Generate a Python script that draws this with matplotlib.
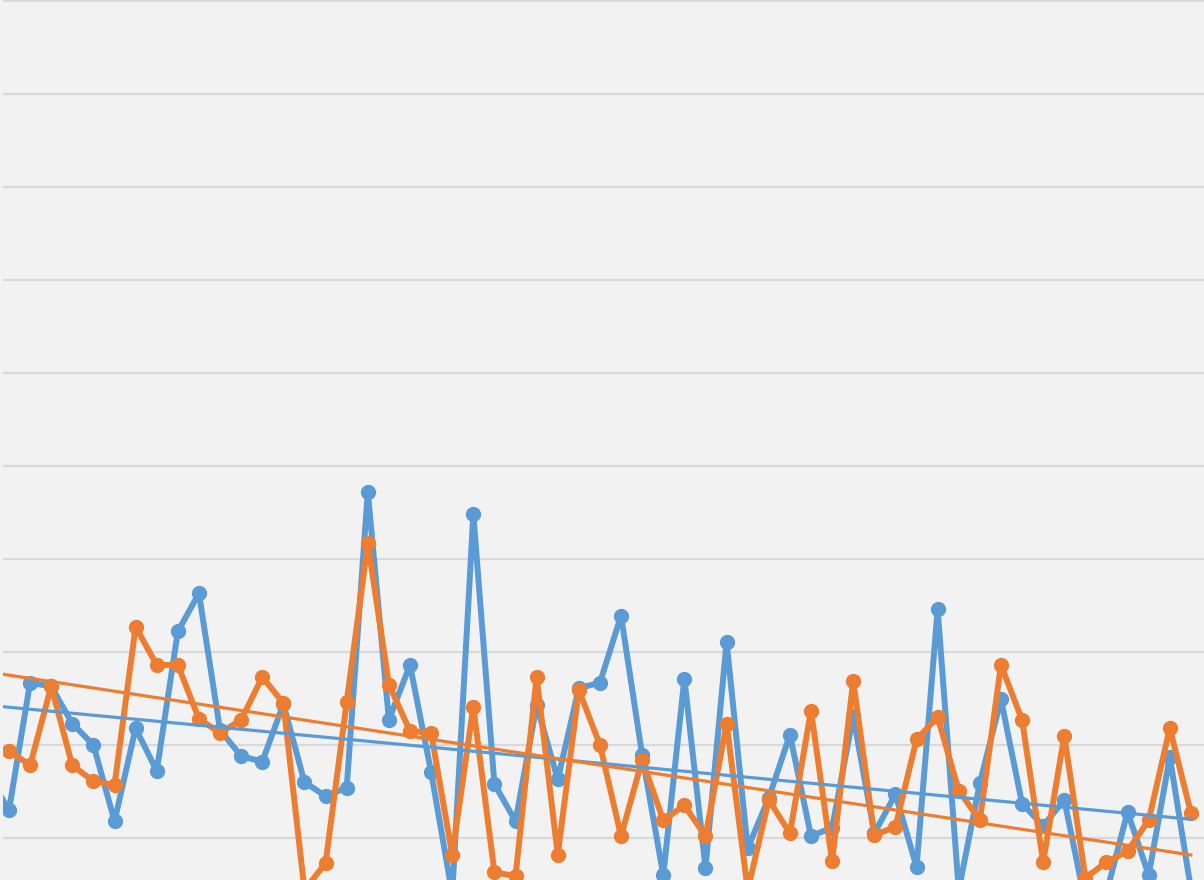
import numpy as np
import matplotlib.pyplot as plt

# Valores (el primer punto queda fuera del recorte por la izquierda)
blue = [16.8, 13.0, 26.7, 26.3, 22.3, 20.0, 11.8, 21.8, 17.2, 32.2,
        36.3, 21.6, 18.8, 18.2, 24.4, 16.0, 14.5, 15.4, 47.2, 22.7,
        28.6, 17.1, 4.0, 44.8, 15.8, 11.8, 24.3, 16.3, 26.1, 26.7,
        33.9, 18.9, 6.0, 27.1, 6.8, 31.1, 8.9, 14.3, 21.1, 10.2,
        11.1, 23.1, 10.5, 14.7, 6.9, 34.6, 4.4, 15.9, 24.9, 13.7,
        11.3, 14.1, 3.0, 4.1, 12.8, 6.0, 18.7, 4.5]
orange = [18.9, 19.4, 17.8, 26.3, 17.8, 16.1, 15.7, 32.7, 28.6, 28.6,
          22.8, 21.3, 22.7, 27.3, 24.5, 4.4, 7.3, 24.6, 41.7, 26.5,
          21.5, 21.3, 8.2, 24.1, 6.3, 5.9, 27.3, 8.2, 25.9, 20.0,
          10.2, 18.4, 11.9, 13.5, 10.2, 22.3, 4.4, 14.1, 10.5, 23.7,
          7.5, 26.9, 10.3, 11.2, 20.6, 23.0, 15.1, 11.9, 28.6, 22.7,
          7.4, 21.0, 5.7, 7.4, 8.6, 11.9, 21.8, 12.7]
x = np.arange(-1, len(blue) - 1)

# Lineas de tendencia: valor inicial y final
trend_x = [x[0], x[-1]]
trend_blue = [24.27, 12.01]
trend_orange = [27.85, 8.17]

blue_c = '#5b9bd5'
orange_c = '#ed7d31'

fig = plt.figure(figsize=(12.04, 8.8), dpi=100)
fig.patch.set_facecolor('#f2f2f2')
ax = fig.add_axes([3 / 1204, 0, 1 - 3 / 1204, 1])
ax.set_facecolor('#f2f2f2')

ax.plot(x, blue, color=blue_c, lw=4.3, marker='o', ms=10, zorder=3)
ax.plot(x, orange, color=orange_c, lw=4.3, marker='o', ms=10, zorder=4)

ax.plot(trend_x, trend_blue, color=blue_c, lw=2.3, zorder=5)
ax.plot(trend_x, trend_orange, color=orange_c, lw=2.3, zorder=5)

ax.set_xlim(-0.284, 56.62)
ax.set_ylim(5.48, 100.1)
ax.set_yticks(np.arange(10, 101, 10))
ax.grid(axis='y', color='#d9d9d9', lw=1.6)
ax.set_axisbelow(True)
ax.tick_params(left=False, bottom=False, labelleft=False, labelbottom=False)
for s in ax.spines.values():
    s.set_visible(False)

fig.savefig('out.png', dpi=100, facecolor=fig.get_facecolor())
